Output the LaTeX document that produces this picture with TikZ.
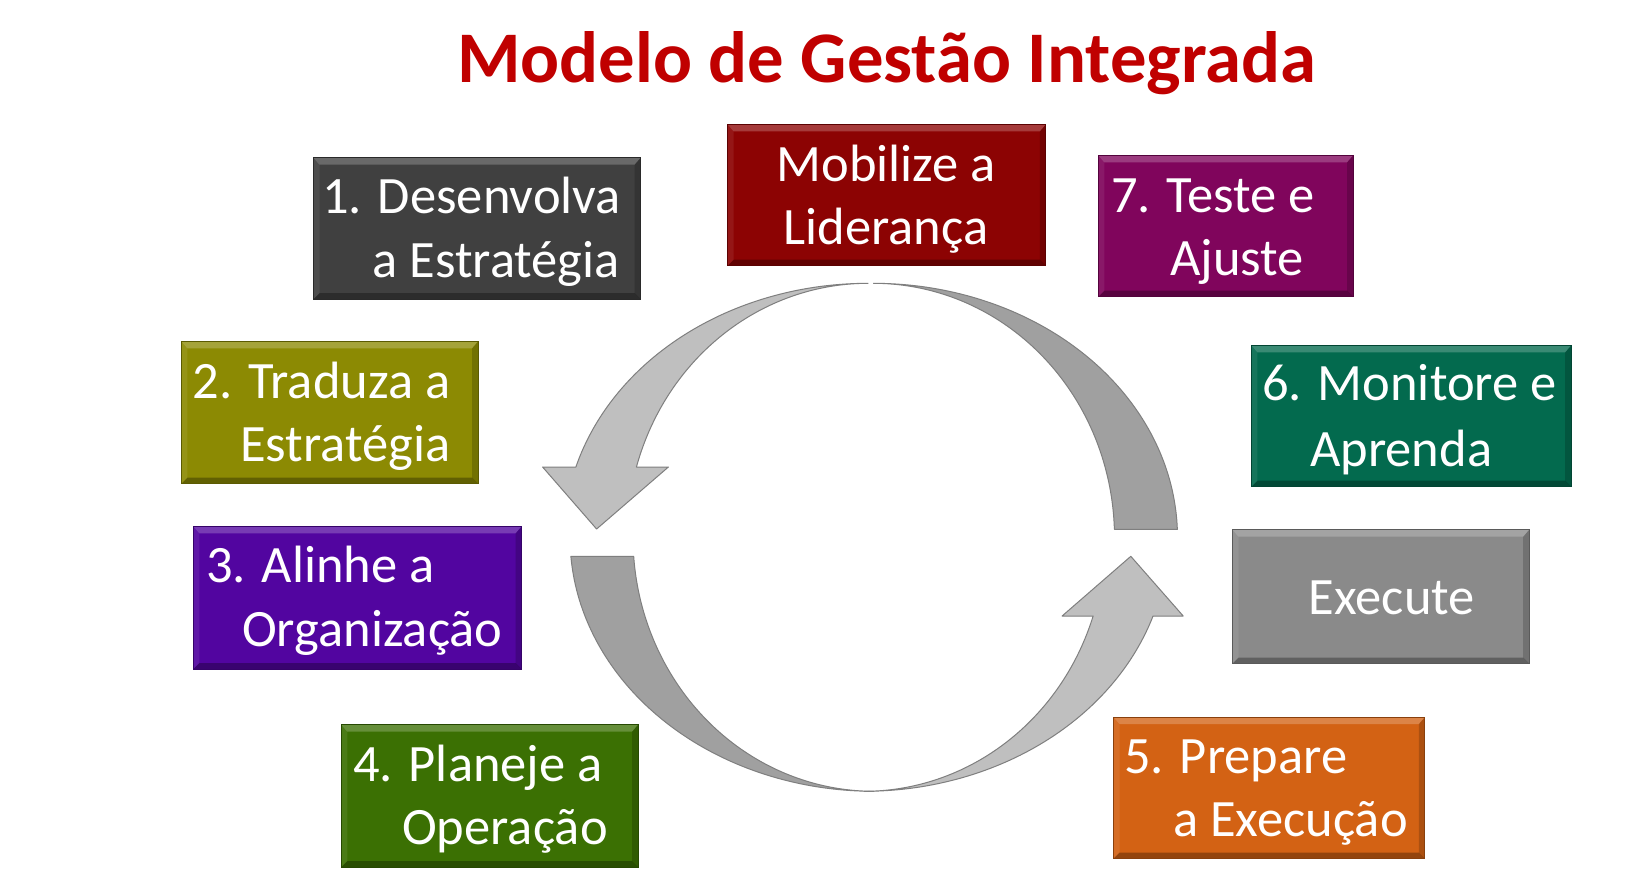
\documentclass[tikz,border=0pt]{standalone}
\usepackage{fontspec}
\setmainfont{Carlito}
\definecolor{cOne}{HTML}{404040}
\definecolor{cMob}{HTML}{8C0303}
\definecolor{cSeven}{HTML}{80055C}
\definecolor{cTwo}{HTML}{8C8A03}
\definecolor{cSix}{HTML}{036A4E}
\definecolor{cThree}{HTML}{5205A0}
\definecolor{cExe}{HTML}{8A8A8A}
\definecolor{cFour}{HTML}{3B7003}
\definecolor{cFive}{HTML}{D36214}
\definecolor{cTitle}{HTML}{C00000}
\definecolor{bandDark}{HTML}{A0A0A0}
\definecolor{bandLight}{HTML}{BFBFBF}
\definecolor{bandLine}{HTML}{7F7F7F}
\tikzset{
  bevel/.style={path picture={
    \path (path picture bounding box.north west) coordinate (pnw)
          (path picture bounding box.south east) coordinate (pse);
    \fill[white,opacity=0.22] (pnw) -- (pnw -| pse) -- ([xshift=-6pt,yshift=-7pt]pnw -| pse) -- ([xshift=6pt,yshift=-7pt]pnw) -- cycle;
    \fill[black,opacity=0.30] (pse) -- (pse -| pnw) -- ([xshift=6pt,yshift=6pt]pse -| pnw) -- ([xshift=-6pt,yshift=6pt]pse) -- cycle;
    \fill[black,opacity=0.18] (pse) -- (pse |- pnw) -- ([xshift=-6pt,yshift=-7pt]pse |- pnw) -- ([xshift=-6pt,yshift=6pt]pse) -- cycle;
    \fill[white,opacity=0.08] (pnw) -- (pnw |- pse) -- ([xshift=6pt,yshift=6pt]pnw |- pse) -- ([xshift=6pt,yshift=-7pt]pnw) -- cycle;
  }},
  boxnode/.style={rectangle, fill=#1, draw=#1!65!black, line width=1pt, inner sep=0pt, bevel},
  txt/.style={text=white, inner sep=0pt, font=\fontsize{52.5}{63.5}\selectfont},
  band/.style={draw=bandLine, line width=1pt, line join=round},
}
\begin{document}
\begin{tikzpicture}[x=1pt,y=-1pt]
\useasboundingbox (0,0) rectangle (1644,887);
\fill[white] (0,0) rectangle (1644,887);

% title
\node[anchor=base, inner sep=0pt, text=cTitle, font=\fontsize{72.7}{85}\selectfont\bfseries] (title) at (886.5,82.7) {Modelo de Gestão Integrada};

% circular bands
\filldraw[band, fill=bandDark]
  plot[domain=-90:-1.8, samples=80] ({873.5+304*cos(\x)},{537.3+254*sin(\x)})
  -- plot[domain=-1.8:-90, samples=80] ({873.5+241*cos(\x)},{537.3+254*sin(\x)}) -- cycle;
\filldraw[band, fill=bandDark]
  plot[domain=175.7:90, samples=80] ({874+304*cos(\x)},{537.3+254*sin(\x)})
  -- plot[domain=90:175.7, samples=80] ({874+241*cos(\x)},{537.3+254*sin(\x)}) -- cycle;
\filldraw[band, fill=bandLight]
  plot[domain=-90:-163.93, samples=80] ({868+304*cos(\x)},{537.3+254*sin(\x)})
  -- (542.6,467) -- (596.6,529) -- (668.4,467)
  -- plot[domain=-163.93:-90, samples=80] ({868+241*cos(\x)},{537.3+254*sin(\x)}) -- cycle;
\filldraw[band, fill=bandLight]
  plot[domain=90:18.05, samples=80] ({864+304*cos(\x)},{537.3+254*sin(\x)})
  -- (1183.2,616) -- (1130.8,556.3) -- (1062.1,616)
  -- plot[domain=18.05:90, samples=80] ({864+241*cos(\x)},{537.3+254*sin(\x)}) -- cycle;

% boxes
\node[boxnode=cOne,   minimum width=327.1pt, minimum height=141.3pt] (b1) at (477.05,228.35) {};
\node[boxnode=cMob,   minimum width=318.3pt, minimum height=141.4pt] (bm) at (886.75,195) {};
\node[boxnode=cSeven, minimum width=254.8pt, minimum height=141.4pt] (b7) at (1225.7,226) {};
\node[boxnode=cTwo,   minimum width=296.7pt, minimum height=142.4pt] (b2) at (329.75,412.5) {};
\node[boxnode=cSix,   minimum width=319.8pt, minimum height=141.4pt] (b6) at (1411.3,416) {};
\node[boxnode=cThree, minimum width=328.2pt, minimum height=142.7pt] (b3) at (357.5,597.65) {};
\node[boxnode=cExe,   minimum width=296.7pt, minimum height=134pt]   (bx) at (1380.85,596.7) {};
\node[boxnode=cFour,  minimum width=296.7pt, minimum height=142.3pt] (b4) at (489.65,795.85) {};
\node[boxnode=cFive,  minimum width=311.4pt, minimum height=141.7pt] (b5) at (1269.2,787.85) {};

% texts (one node per printed line)
\node[txt, anchor=base east] (t1a) at (621,213.3) {1. Desenvolva};
\node[txt, anchor=base east] (t1b) at (620,277.3) {a Estratégia};
\node[txt, anchor=base] (tma) at (886.3,181) {Mobilize a};
\node[txt, anchor=base] (tmb) at (886,244.3) {Liderança};
\node[txt, anchor=base west] (t7a) at (1111,212) {7. Teste e};
\node[txt, anchor=base west] (t7b) at (1170,275.3) {Ajuste};
\node[txt, anchor=base east] (t2a) at (450.5,398.3) {2. Traduza a};
\node[txt, anchor=base east] (t2b) at (450.5,461) {Estratégia};
\node[txt, anchor=base west] (t6a) at (1262,400) {6. Monitore e};
\node[txt, anchor=base west] (t6b) at (1310,466.3) {Aprenda};
\node[txt, anchor=base west] (t3a) at (206,582.3) {3. Alinhe a};
\node[txt, anchor=base west] (t3b) at (242,646.3) {Organização};
\node[txt, anchor=base west] (tx) at (1308.6,614.7) {Execute};
\node[txt, anchor=base west] (t4a) at (353,781.3) {4. Planeje a};
\node[txt, anchor=base west] (t4b) at (402,844.7) {Operação};
\node[txt, anchor=base west] (t5a) at (1124,773) {5. Prepare};
\node[txt, anchor=base west] (t5b) at (1173,836.3) {a Execução};
\end{tikzpicture}
\end{document}
